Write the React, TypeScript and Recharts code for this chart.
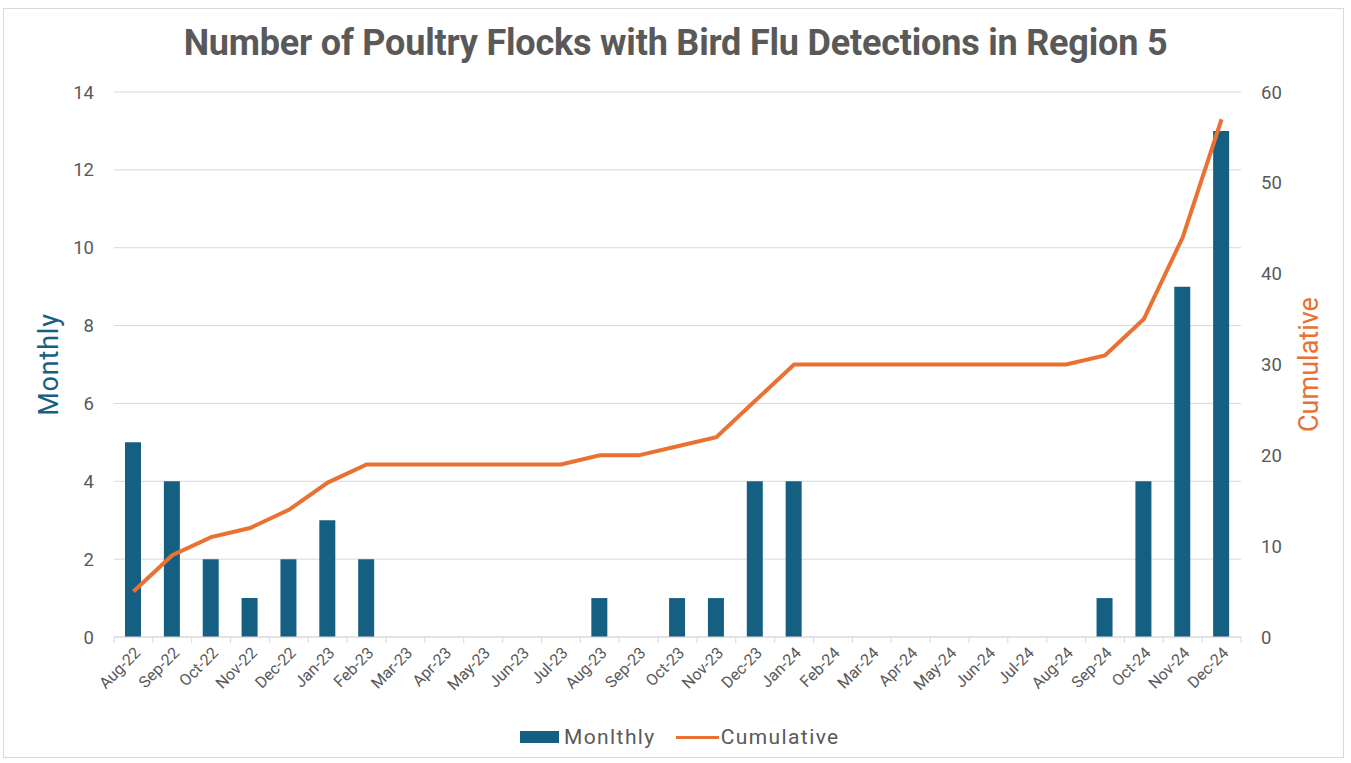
import React from "react";
import {
  ComposedChart,
  Bar,
  Line,
  XAxis,
  YAxis,
  CartesianGrid,
  Legend,
} from "recharts";

const months = [
  "Aug-22", "Sep-22", "Oct-22", "Nov-22", "Dec-22", "Jan-23", "Feb-23", "Mar-23",
  "Apr-23", "May-23", "Jun-23", "Jul-23", "Aug-23", "Sep-23", "Oct-23", "Nov-23",
  "Dec-23", "Jan-24", "Feb-24", "Mar-24", "Apr-24", "May-24", "Jun-24", "Jul-24",
  "Aug-24", "Sep-24", "Oct-24", "Nov-24", "Dec-24",
];
const monthly = [5, 4, 2, 1, 2, 3, 2, 0, 0, 0, 0, 0, 1, 0, 1, 1, 4, 4, 0, 0, 0, 0, 0, 0, 0, 1, 4, 9, 13];
const cumulative = [5, 9, 11, 12, 14, 17, 19, 19, 19, 19, 19, 19, 20, 20, 21, 22, 26, 30, 30, 30, 30, 30, 30, 30, 30, 31, 35, 44, 57];
const leftTicks = [0, 2, 4, 6, 8, 10, 12, 14];
const rightTicks = [0, 10, 20, 30, 40, 50, 60];

const data = months.map((m, i) => ({ month: m, Monlthly: monthly[i], Cumulative: cumulative[i] }));

const BAR = "#156082";
const LINE = "#E97132";
const GRAY = "#595959";
const FONT = "Roboto, 'Open Sans', sans-serif";

const W = 1351;
const H = 763;
const PLOT_LEFT = 114;
const RIGHT_W = 110;
const PLOT_RIGHT = W - RIGHT_W;
const STEP = (PLOT_RIGHT - PLOT_LEFT) / months.length;

const XTick = (props: any) => {
  const { x, y, payload, index } = props;
  const isLast = index === months.length - 1;
  return (
    <g>
      <line x1={x - STEP / 2} x2={x - STEP / 2} y1={y - 8} y2={y - 2} stroke="#d9d9d9" />
      {isLast && <line x1={x + STEP / 2} x2={x + STEP / 2} y1={y - 8} y2={y - 2} stroke="#d9d9d9" />}
      <text
        x={x + 5}
        y={y + 6}
        textAnchor="end"
        fill={GRAY}
        fontSize={16}
        fontFamily={FONT}
        transform={`rotate(-45, ${x + 5}, ${y + 6})`}
        dominantBaseline="middle"
      >
        {payload.value}
      </text>
    </g>
  );
};

const LegendContent = () => (
  <div
    style={{
      display: "flex",
      alignItems: "center",
      fontFamily: FONT,
      fontSize: 21,
      letterSpacing: 1.4,
      color: GRAY,
      paddingLeft: 520,
    }}
  >
    <span style={{ display: "inline-block", width: 39, height: 12, background: BAR, marginRight: 5 }} />
    <span>Monlthly</span>
    <span style={{ display: "inline-block", width: 43, height: 3, background: LINE, marginLeft: 20, marginRight: 2 }} />
    <span>Cumulative</span>
  </div>
);

export default function App() {
  return (
    <div style={{ position: "absolute", left: 0, top: 0, width: W, height: H, background: "#fff" }}>
      <div
        style={{
          position: "absolute",
          left: 3,
          top: 8,
          width: 1341,
          height: 750,
          border: "1px solid #d9d9d9",
          boxSizing: "border-box",
        }}
      />
      <div
        style={{
          position: "absolute",
          left: 0,
          top: 22,
          width: W,
          textAlign: "center",
          fontFamily: FONT,
          fontWeight: 700,
          fontSize: 36,
          color: GRAY,
          letterSpacing: -0.2,
        }}
      >
        Number of Poultry Flocks with Bird Flu Detections in Region 5
      </div>
      <ComposedChart
        width={W}
        height={H}
        data={data}
        margin={{ top: 92, right: 0, bottom: 14, left: 0 }}
        style={{ position: "absolute", left: 0, top: 0 }}
      >
        <CartesianGrid yAxisId="left" vertical={false} stroke="#d9d9d9" />
        <XAxis
          dataKey="month"
          interval={0}
          height={88}
          tick={<XTick />}
          tickLine={false}
          axisLine={{ stroke: "#d9d9d9" }}
        />
        <YAxis
          yAxisId="left"
          orientation="left"
          width={PLOT_LEFT}
          domain={[0, 14]}
          ticks={leftTicks}
          axisLine={false}
          tickLine={false}
          tickMargin={14}
          tick={{ fill: GRAY, fontSize: 18.5, fontFamily: FONT }}
          label={{
            value: "Monthly",
            angle: -90,
            position: "insideLeft",
            offset: 48,
            style: { fill: BAR, fontSize: 27, fontFamily: FONT, textAnchor: "middle", letterSpacing: 0.8 },
          }}
        />
        <YAxis
          yAxisId="right"
          orientation="right"
          width={RIGHT_W}
          domain={[0, 60]}
          ticks={rightTicks}
          axisLine={false}
          tickLine={false}
          tickMargin={14}
          tick={{ fill: GRAY, fontSize: 18.5, fontFamily: FONT }}
          label={{
            value: "Cumulative",
            angle: -90,
            position: "insideRight",
            offset: 43,
            style: { fill: LINE, fontSize: 27, fontFamily: FONT, textAnchor: "middle" },
          }}
        />
        <Legend verticalAlign="bottom" content={<LegendContent />} />
        <Bar yAxisId="left" dataKey="Monlthly" fill={BAR} barSize={16} isAnimationActive={false} />
        <Line
          yAxisId="right"
          dataKey="Cumulative"
          stroke={LINE}
          strokeWidth={4}
          dot={false}
          activeDot={false}
          type="linear"
          isAnimationActive={false}
        />
      </ComposedChart>
    </div>
  );
}
